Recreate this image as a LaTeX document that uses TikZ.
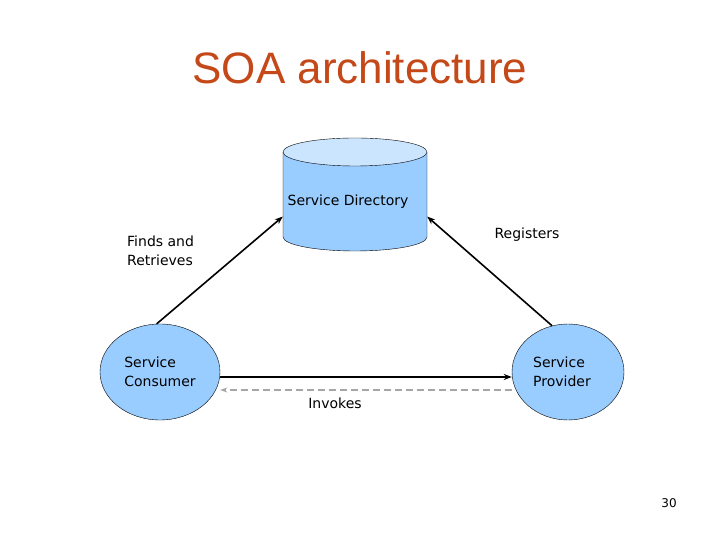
\documentclass[tikz,border=0pt]{standalone}
\usepackage{fontspec}
\setmainfont{DejaVu Sans}
\newfontfamily\titlefont{Liberation Sans}
\usetikzlibrary{shapes.geometric}
\usetikzlibrary{arrows.meta}
\usetikzlibrary{positioning}

\definecolor{svcblue}{RGB}{153,204,255}
\definecolor{svctop}{RGB}{204,229,255}
\definecolor{titlered}{RGB}{196,72,24}

\begin{document}
\begin{tikzpicture}[x=1pt, y=1pt,
    every node/.style={font=\fontsize{14}{19}\selectfont, inner sep=0pt},
    svc/.style={ellipse, draw, fill=svcblue, align=left},
    link/.style={line width=1.6pt, -{Stealth[length=8pt, width=6pt]}},
    back/.style={line width=1.6pt, gray!70, dash pattern=on 7pt off 4pt, -{Stealth[length=7pt, width=5pt]}}]
        \useasboundingbox (0,0) rectangle (720,540);

        \node[font=\titlefont\fontsize{44}{50}\selectfont, text=titlered] (title) at (360, 472) {SOA architecture};

        % directory drum
        \node[minimum width=144, minimum height=113] (dir) at (355, 345.5) {};
        \draw[fill=svcblue] (283, 388) -- (283, 303) arc[start angle=180, end angle=360, x radius=72, y radius=14] -- (427, 388) -- cycle;
        \draw[fill=svctop] (355, 388) ellipse[x radius=72, y radius=14];
        \node (dirtext) at (348, 338) {Service Directory};

        \node[svc, minimum width=120, minimum height=96] (cons) at (160, 168) {Service\\Consumer};
        \node[svc, minimum width=112, minimum height=96] (prov) at (568, 168) {};
        \node[align=left] (provtext) at (562, 168) {Service\\Provider};

        \draw[link] (cons.94) -- (dir.197);
        \draw[link] (prov.109) -- (dir.343);
        \draw[link] ([yshift=-5pt]cons.east) -- ([yshift=-5pt]prov.west);
        \draw[back] ([yshift=-18pt]prov.west) -- ([yshift=-18pt]cons.east);

        \node[anchor=west, align=left] (finds) at (127, 289.5) {Finds and\\Retrieves};
        \node (reg) at (527, 305) {Registers};
        \node (inv) at (335, 137) {Invokes};
        \node[font=\fontsize{12}{14}\selectfont] (page) at (669, 37) {30};
      \end{tikzpicture}
\end{document}
